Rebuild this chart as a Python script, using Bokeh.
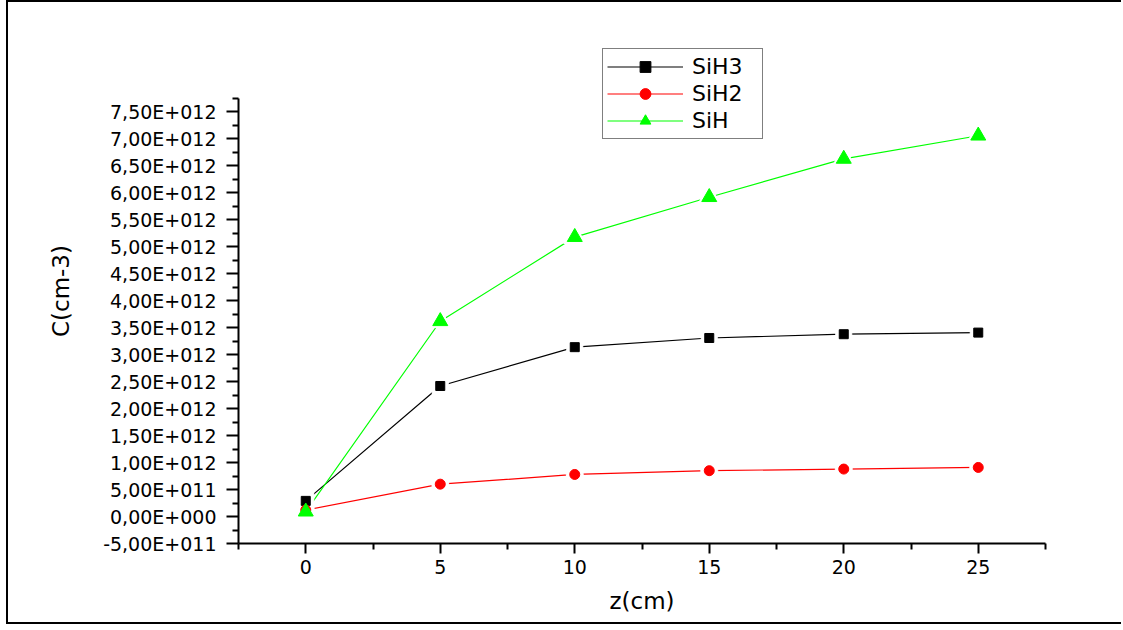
from bokeh.plotting import figure
from bokeh.models import Range1d, FixedTicker, CustomJSTickFormatter, Legend, LegendItem
from bokeh.embed import file_html
from bokeh.resources import INLINE

# ---- data ----
z = [0, 5, 10, 15, 20, 25]
sih3 = [0.29e12, 2.42e12, 3.14e12, 3.31e12, 3.38e12, 3.41e12]
sih2 = [0.12e12, 0.60e12, 0.78e12, 0.85e12, 0.88e12, 0.91e12]
sih = [0.09e12, 3.62e12, 5.18e12, 5.92e12, 6.63e12, 7.06e12]
series_names = ["SiH3", "SiH2", "SiH"]

x_ticks = [0, 5, 10, 15, 20, 25]
x_minor = [-2.5, 2.5, 7.5, 12.5, 17.5, 22.5, 27.5]
y_ticks = [-5e11, 0.0, 5e11, 1e12, 1.5e12, 2e12, 2.5e12, 3e12, 3.5e12, 4e12,
           4.5e12, 5e12, 5.5e12, 6e12, 6.5e12, 7e12, 7.5e12]
y_tick_labels = ["-5,00E+011", "0,00E+000", "5,00E+011", "1,00E+012", "1,50E+012",
                 "2,00E+012", "2,50E+012", "3,00E+012", "3,50E+012", "4,00E+012",
                 "4,50E+012", "5,00E+012", "5,50E+012", "6,00E+012", "6,50E+012",
                 "7,00E+012", "7,50E+012"]
y_minor = [-2.5e11, 2.5e11, 7.5e11, 1.25e12, 1.75e12, 2.25e12, 2.75e12, 3.25e12,
           3.75e12, 4.25e12, 4.75e12, 5.25e12, 5.75e12, 6.25e12, 6.75e12, 7.25e12, 7.75e12]
y_axis_start, y_axis_end = -5e11, 7.75e12

FONT = "DejaVu Sans"

# layout (pixels)
BORDER_L, BORDER_R, BORDER_T, BORDER_B = 230, 78, 36, 83
W, H = 1115, 624
frame_h = H - BORDER_T - BORDER_B
axis_px = 445  # pixel length of the visible y axis
y_end = y_axis_start + (y_axis_end - y_axis_start) * frame_h / axis_px

p = figure(width=W, height=H, output_backend="svg", toolbar_location=None,
           x_range=Range1d(-2.5, 27.5), y_range=Range1d(y_axis_start, y_end),
           min_border_left=BORDER_L, min_border_right=BORDER_R,
           min_border_top=BORDER_T, min_border_bottom=BORDER_B)
p.styles = {"margin-left": "6px", "border-left": "2px solid black",
            "border-top": "2px solid black", "border-bottom": "2px solid black"}
p.background_fill_color = "white"
p.border_fill_color = "white"
p.outline_line_color = None
p.xgrid.visible = False
p.ygrid.visible = False

for ax in (p.xaxis[0], p.yaxis[0]):
    ax.axis_line_width = 2
    ax.axis_line_color = "black"
    ax.major_tick_line_width = 2
    ax.minor_tick_line_width = 2
    ax.major_tick_in = 0
    ax.minor_tick_in = 0
    ax.major_label_text_font = FONT
    ax.major_label_text_font_size = "19px"
    ax.major_label_text_color = "black"
    ax.axis_label_text_font = FONT
    ax.axis_label_text_font_size = "23px"
    ax.axis_label_text_font_style = "normal"
    ax.axis_label_text_color = "black"

p.xaxis.ticker = FixedTicker(ticks=x_ticks, minor_ticks=x_minor)
p.xaxis.major_tick_out = 10
p.xaxis.minor_tick_out = 6
p.xaxis.major_label_standoff = 6
p.xaxis.axis_label = "z(cm)"
p.xaxis.axis_label_standoff = 11

p.yaxis.ticker = FixedTicker(ticks=y_ticks, minor_ticks=y_minor)
p.yaxis.bounds = (y_axis_start, y_axis_end)
p.yaxis.formatter = CustomJSTickFormatter(
    args=dict(tvals=y_ticks, tlabels=y_tick_labels),
    code="""
    for (let i = 0; i < tvals.length; i++) {
        if (Math.abs(tvals[i] - tick) < 1e6) return tlabels[i];
    }
    return "";
    """)
p.yaxis.major_tick_out = 12
p.yaxis.minor_tick_out = 6
p.yaxis.major_label_standoff = 10
p.yaxis.axis_label = "C(cm-3)"
p.yaxis.axis_label_standoff = 26

colors = ["black", "#ff0000", "#00ff00"]
markers = ["square", "circle", "triangle"]
sizes = [9, 10, 15]
ys = [sih3, sih2, sih]

lines = []
for yv, c in zip(ys, colors):
    lines.append(p.line(z, yv, line_color=c, line_width=1.2))
# white halos to mimic gaps between lines and markers
for yv, m, s in zip(ys, markers, sizes):
    p.scatter(z, yv, marker=m, size=s + 7, fill_color="white", line_color="white")
pts = []
for yv, c, m, s in zip(ys, colors, markers, sizes):
    pts.append(p.scatter(z, yv, marker=m, size=s, fill_color=c, line_color=c))

items = [LegendItem(label=n, renderers=[l, s]) for n, l, s in zip(series_names, lines, pts)]
legend = Legend(items=items, location=(364, 404), orientation="vertical",
                label_text_font=FONT, label_text_font_size="22px",
                label_text_color="black", glyph_width=76, glyph_height=27,
                label_height=27, label_width=66, label_standoff=9, spacing=0,
                padding=4, margin=0, border_line_color="black",
                border_line_width=1.5, background_fill_color="white",
                background_fill_alpha=1.0)
p.add_layout(legend, "center")

open("out.html", "w").write(file_html(p, INLINE))
